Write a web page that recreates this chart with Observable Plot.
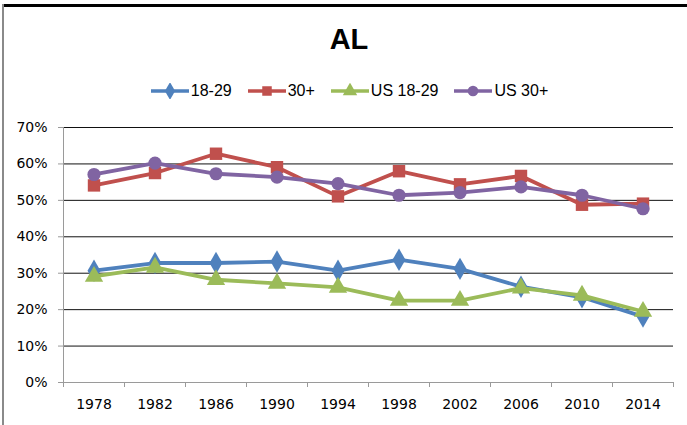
<!DOCTYPE html>
<html>
<head>
<meta charset="utf-8">
<script src="https://cdn.jsdelivr.net/npm/d3@7"></script>
<script src="https://cdn.jsdelivr.net/npm/@observablehq/plot@0.6"></script>
<style>
  html, body { margin: 0; padding: 0; background: #fff; }
  #wrap { position: relative; width: 687px; height: 425px; overflow: hidden; background: #fff; }
  #topline { position: absolute; left: 2px; top: 4px; width: 685px; height: 3px; background: #000; }
  #leftline { position: absolute; left: 2px; top: 4px; width: 2px; height: 421px; background: #8a8a8a; }
  #title { position: absolute; left: 0; top: 23px; width: 698px; text-align: center;
           font: bold 29px "Liberation Sans", Arial, sans-serif; color: #000; }
  #legend { position: absolute; left: 0; top: 82px; width: 699px; display: flex; justify-content: center;
            font: 16px "Liberation Sans", Arial, sans-serif; color: #000; }
  .item { display: flex; align-items: center; margin: 0 8px; }
  .item svg { margin-right: 2px; }
  #chart { position: absolute; left: 0; top: 110px; }
  #chart svg text { font-family: "DejaVu Sans", sans-serif; font-size: 14px; }
</style>
</head>
<body>
<div id="wrap">
  <div id="topline"></div>
  <div id="leftline"></div>
  <div id="title">AL</div>
  <div id="legend"></div>
  <div id="chart"></div>
</div>
<script>
const years = ["1978","1982","1986","1990","1994","1998","2002","2006","2010","2014"];
const al1829   = [0.307, 0.328, 0.328, 0.332, 0.307, 0.337, 0.312, 0.263, 0.234, 0.181];
const al30     = [0.541, 0.575, 0.628, 0.591, 0.511, 0.580, 0.544, 0.567, 0.488, 0.491];
const us1829   = [0.291, 0.316, 0.282, 0.272, 0.261, 0.225, 0.225, 0.259, 0.239, 0.195];
const us30     = [0.571, 0.602, 0.573, 0.564, 0.546, 0.514, 0.521, 0.537, 0.514, 0.477];
const seriesNames = ["18-29", "30+", "US 18-29", "US 30+"];
const seriesColors = ["#4F81BD", "#C0504D", "#9BBB59", "#8064A2"];
const seriesSymbols = ["diamond", "square", "triangle", "circle"];
const seriesR = [6.8, 7.0, 6.8, 6.6];
const yTicks = [0, 0.1, 0.2, 0.3, 0.4, 0.5, 0.6, 0.7];

const seriesValues = [al1829, al30, us1829, us30];
const rows = [];
seriesValues.forEach((vals, s) => vals.forEach((v, i) => rows.push({series: seriesNames[s], idx: i + 0.5, year: years[i], value: v})));

const marks = [
  Plot.ruleY(yTicks.filter(d => d > 0), {stroke: "#111", strokeWidth: 1}),
  Plot.ruleY([0], {stroke: "#9a9a9a", strokeWidth: 1}),
  Plot.ruleX([0], {y1: 0, y2: 0.7, stroke: "#9a9a9a", strokeWidth: 1}),
  Plot.axisY({ticks: yTicks, tickFormat: d3.format(".0%"), tickSize: 5, tickPadding: 11, stroke: "#9a9a9a", fill: "#000",
              fontSize: 14, label: null}),
  Plot.axisX({ticks: d3.range(0, years.length + 1), tickFormat: () => "", tickSize: 5, stroke: "#9a9a9a", label: null}),
  Plot.axisX({ticks: years.map((y, i) => i + 0.5), tickFormat: d => years[Math.floor(d)], tickSize: 0, tickPadding: 17,
              fill: "#000", fontSize: 14, label: null})
];
seriesNames.forEach((name, s) => {
  const data = rows.filter(r => r.series === name);
  marks.push(Plot.line(data, {x: "idx", y: "value", stroke: seriesColors[s], strokeWidth: 3.8}));
  marks.push(Plot.dot(data, {x: "idx", y: "value", symbol: () => seriesSymbols[s], r: seriesR[s], fill: seriesColors[s], stroke: "none"}));
});

const chart = Plot.plot({
  width: 687,
  height: 315,
  marginLeft: 63,
  marginRight: 14,
  marginTop: 17,
  marginBottom: 43,
  x: {type: "linear", domain: [0, years.length], axis: null},
  y: {domain: [0, 0.7], axis: null},
  symbol: {type: "identity"},
  style: {background: "transparent", overflow: "visible", fontFamily: "DejaVu Sans", fontSize: "14px"},
  marks
});
document.getElementById("chart").appendChild(chart);

// legend
const legend = document.getElementById("legend");
seriesNames.forEach((name, s) => {
  const item = document.createElement("div");
  item.className = "item";
  const sw = d3.create("svg").attr("width", 38).attr("height", 16);
  sw.append("line").attr("x1", 0).attr("x2", 38).attr("y1", 8).attr("y2", 8)
    .attr("stroke", seriesColors[s]).attr("stroke-width", 3.5);
  const sym = {diamond: d3.symbolDiamond, square: d3.symbolSquare, triangle: d3.symbolTriangle, circle: d3.symbolCircle}[seriesSymbols[s]];
  sw.append("path").attr("transform", "translate(19,8)")
    .attr("d", d3.symbol(sym, Math.PI * 6 * 6 * 0.8)())
    .attr("fill", seriesColors[s]);
  item.appendChild(sw.node());
  const t = document.createElement("span");
  t.textContent = name;
  item.appendChild(t);
  legend.appendChild(item);
});
</script>
</body>
</html>
